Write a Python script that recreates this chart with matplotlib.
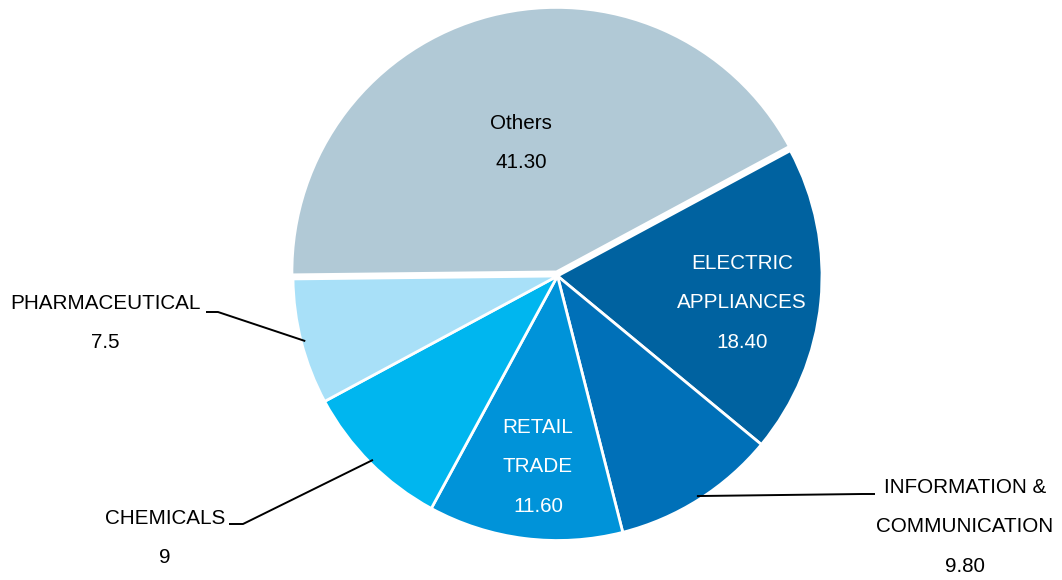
import numpy as np
import matplotlib.pyplot as plt

plt.rcParams['font.family'] = ['Liberation Sans', 'DejaVu Sans']

# Data (clockwise from the top-right)
categories = ['ELECTRIC\nAPPLIANCES', 'INFORMATION &\nCOMMUNICATION', 'RETAIL\nTRADE',
              'CHEMICALS', 'PHARMACEUTICAL', 'Others']
values = [18.40, 9.80, 11.60, 9, 7.5, 41.30]
value_labels = ['18.40', '9.80', '11.60', '9', '7.5', '41.30']
colors = ['#0062a0', '#0070b8', '#0093d9', '#00b6ef', '#a8e0f8', '#b1c9d6']

W, H = 1062, 580
fig = plt.figure(figsize=(W / 100, H / 100), dpi=100)
ax = fig.add_axes([0, 0, 1, 1])

cx, cy, R = 557.5, H - 276, 264.5
# pie explode offsets are in data units (pixels here), not radius fractions
explode = [0, 0, 0, 0, 0, 0.016 * R]
wedges, _ = ax.pie(values, colors=colors, explode=explode, startangle=28.3,
                   counterclock=False, center=(cx, cy), radius=R,
                   wedgeprops=dict(edgecolor='white', linewidth=2))
ax.set_xlim(0, W)
ax.set_ylim(0, H)
ax.set_aspect('equal')
ax.axis('off')

# label layout, image coords of the text block centre
label_pos = [(742, 303), (965, 527), (538, 467), (165, 538), (105, 323), (521, 143)]
text_colors = ['white', 'black', 'white', 'black', 'black', 'black']
# leader lines for the outside labels: (elbow, end) in image coords
leaders = {1: ((862, 494), (875, 494)),
           3: ((243, 524), (229, 524)),
           4: ((218, 312), (206, 312))}

step = 39.5
for i, w in enumerate(wedges):
    lines = categories[i].split('\n') + [value_labels[i]]
    x, y = label_pos[i]
    y0 = y - step * (len(lines) - 1) / 2
    for k, line in enumerate(lines):
        ax.text(x, H - (y0 + k * step), line, ha='center', va='center',
                fontsize=14.9, color=text_colors[i])
    if i in leaders:
        ang = np.deg2rad((w.theta1 + w.theta2) / 2)
        sx = cx + (R - 4) * np.cos(ang)
        sy = cy + (R - 4) * np.sin(ang)
        (ex, ey), (tx, ty) = leaders[i]
        ax.plot([sx, ex, tx], [sy, H - ey, H - ty], color='black', lw=1.4,
                solid_capstyle='butt')

fig.savefig('out.png', dpi=100)
